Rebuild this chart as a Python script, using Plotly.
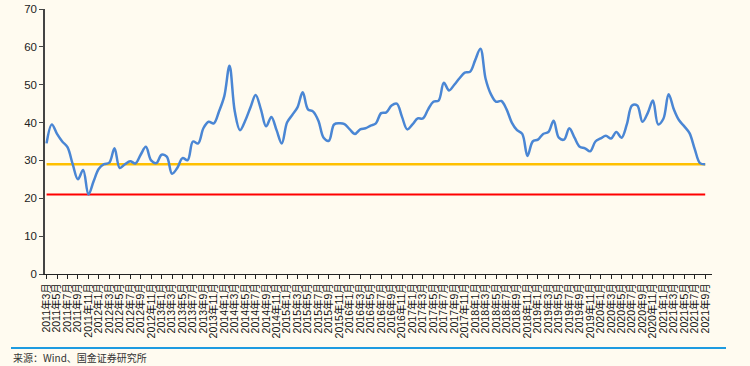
import plotly.graph_objects as go

# Monthly values, 2011-03 .. 2021-09
months = []
y, m = 2011, 3
while (y, m) <= (2021, 9):
    months.append(f"{y}年{m}月")
    m += 1
    if m > 12:
        m = 1
        y += 1

series = [
    34.5, 39.5, 37.0, 35.0, 33.5, 29.0, 25.0, 27.5, 21.0, 24.5,
    27.8, 29.0, 29.4, 33.2, 28.0, 29.0, 29.8, 29.2, 31.5, 33.6,
    30.0, 29.3, 31.5, 31.0, 26.5, 28.0, 30.6, 30.1, 35.0, 34.5,
    38.5, 40.2, 39.8, 43.0, 47.0, 55.0, 43.0, 38.0, 40.5, 44.0,
    47.3, 43.5, 39.0, 41.5, 38.0, 34.5, 40.0, 42.0, 44.0, 48.0,
    43.5, 42.9, 40.5, 36.0, 35.2, 39.5, 39.8, 39.6, 38.2, 37.0,
    38.2, 38.5, 39.2, 39.8, 42.5, 42.7, 44.5, 45.0, 41.5, 38.2,
    39.5, 41.1, 41.1, 43.5, 45.5, 45.8, 50.5, 48.5, 50.0, 51.7,
    53.2, 53.4, 56.5, 59.5, 51.5, 47.5, 45.5, 45.7, 43.5, 40.0,
    38.0, 37.0, 31.2, 35.0, 35.5, 37.0, 37.5, 40.5, 36.0, 35.5,
    38.5, 36.0, 33.6, 33.2, 32.4, 35.0, 35.8, 36.5, 35.8, 37.5,
    36.0, 39.5, 44.5, 44.5, 40.2, 42.5, 45.8, 39.5, 41.0, 47.5,
    43.5, 40.6, 39.0, 37.2, 33.0, 29.3, 29.0,
]
upper_line = [29.0] * len(months)
lower_line = [21.0] * len(months)

tick_idx = list(range(0, len(months), 2))
tick_text = [months[i] for i in tick_idx]
y_ticks = [0, 10, 20, 30, 40, 50, 60, 70]

xs = list(range(len(months)))
bg = "#FFFBF0"

L, R, T, B = 45, 38, 9, 92
PW, PH = 750 - L - R, 366 - T - B

def px_x(p):  # page pixel -> paper x
    return (p - L) / PW

def px_y(p):  # page pixel -> paper y
    return (366 - B - p) / PH

fig = go.Figure()
fig.add_trace(go.Scatter(x=xs, y=lower_line, mode="lines",
                         line=dict(color="#FF0000", width=2.2), hoverinfo="skip"))
fig.add_trace(go.Scatter(x=xs, y=upper_line, mode="lines",
                         line=dict(color="#FFC000", width=2.5), hoverinfo="skip"))
fig.add_trace(go.Scatter(x=xs, y=series, mode="lines",
                         line=dict(color="#4A86D4", width=2.5, shape="spline", smoothing=1.0)))

fig.update_layout(
    width=750, height=366,
    margin=dict(l=L, r=R, t=T, b=B, autoexpand=False),
    paper_bgcolor=bg, plot_bgcolor=bg,
    showlegend=False,
    font=dict(family="Liberation Sans, Arial, Noto Sans CJK SC, sans-serif", color="#222", size=11),
    xaxis=dict(
        range=[-0.3, 127.3], automargin=False,
        tickmode="array", tickvals=tick_idx, ticktext=tick_text,
        tickangle=-90, tickfont=dict(size=10.5, color="#111"),
        showgrid=False, zeroline=False,
        showline=True, linecolor="#222", linewidth=1,
        ticks="outside", ticklen=4, tickcolor="#222",
    ),
    yaxis=dict(
        range=[0, 70], tickvals=y_ticks, automargin=False,
        showgrid=False, zeroline=False,
        showline=True, linecolor="#444", linewidth=1.5,
        ticks="outside", ticklen=4, tickcolor="#444",
        tickfont=dict(size=11.5, color="#222"),
    ),
    shapes=[dict(type="line", xref="paper", yref="paper",
                 x0=px_x(11), x1=px_x(726),
                 y0=px_y(348), y1=px_y(348),
                 line=dict(color="#1E9BE0", width=1.8))],
    annotations=[dict(text="来源：Wind、国金证券研究所", xref="paper", yref="paper",
                      x=px_x(11), y=px_y(357),
                      xanchor="left", yanchor="middle", showarrow=False,
                      font=dict(size=10, color="#333",
                                family="Noto Sans CJK SC, Liberation Sans, sans-serif"))],
)

fig.write_html("out.html",
               config={"displayModeBar": False},
               post_script="document.body.style.margin='0';document.body.style.background='%s';" % bg)
